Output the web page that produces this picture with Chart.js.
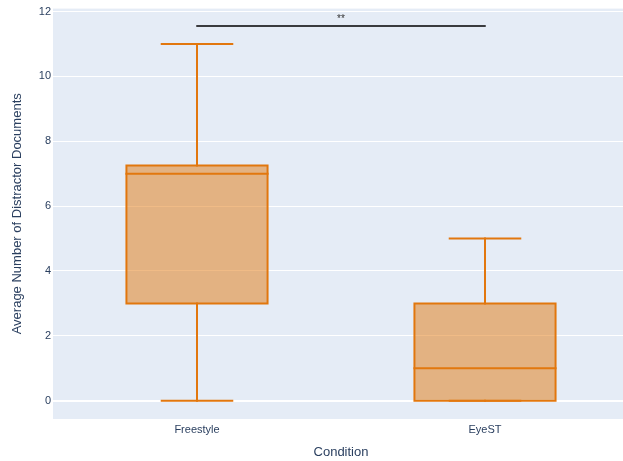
<!DOCTYPE html>
<html>
<head>
<meta charset="utf-8">
<script src="https://cdn.jsdelivr.net/npm/chart.js@4/dist/chart.umd.min.js"></script>
<style>
  html, body { margin: 0; padding: 0; background: #fff; overflow: hidden; }
  #wrap { width: 640px; height: 461px; }
</style>
</head>
<body>
<div id="wrap"><canvas id="c" width="640" height="461"></canvas></div>
<script>
// Box-plot summary per condition
const categories = ['Freestyle', 'EyeST'];
const mins    = [0, 0];
const q1s     = [3, 0];
const medians = [7, 1];
const q3s     = [7.25, 3];
const maxs    = [11, 5];

// Significance bracket between the two conditions
const sigPair  = [0, 1];
const sigLevel = 11.55;
const sigLabel = '**';

const yTicks = [0, 2, 4, 6, 8, 10, 12];

const LINE = 'rgb(226,119,14)';
const FILL = 'rgba(226,119,14,0.5)';
const TEXT = '#2a3f5f';
const BOX_HALF = 0.245;   // half box width in category units
const CAP_HALF = 0.1225;  // half whisker-cap width

// segment builders: points separated by null gaps
function segs(list) {
  const out = [];
  list.forEach((s, i) => {
    if (i > 0) out.push({ x: s[0][0], y: null });
    s.forEach(p => out.push({ x: p[0], y: p[1] }));
  });
  return out;
}
const whiskerSegs = [], capSegs = [], medianSegs = [], boxOutlines = [];
categories.forEach((_, i) => {
  whiskerSegs.push([[i, q3s[i]], [i, maxs[i]]]);
  whiskerSegs.push([[i, mins[i]], [i, q1s[i]]]);
  capSegs.push([[i - CAP_HALF, maxs[i]], [i + CAP_HALF, maxs[i]]]);
  capSegs.push([[i - CAP_HALF, mins[i]], [i + CAP_HALF, mins[i]]]);
  medianSegs.push([[i - BOX_HALF, medians[i]], [i + BOX_HALF, medians[i]]]);
  boxOutlines.push([
    [i - BOX_HALF, q1s[i]], [i + BOX_HALF, q1s[i]], [i + BOX_HALF, q3s[i]],
    [i - BOX_HALF, q3s[i]], [i - BOX_HALF, q1s[i]]
  ]);
});

const lineDs = (data, color, width) => ({
  type: 'line', xAxisID: 'xl', data, borderColor: color, borderWidth: width,
  pointRadius: 0, fill: false, spanGaps: false, tension: 0,
  borderCapStyle: 'square', borderJoinStyle: 'miter'
});

const plotBg = {
  id: 'plotBg',
  beforeDraw(chart) {
    const { ctx, chartArea: a } = chart;
    ctx.save();
    ctx.fillStyle = '#E5ECF6';
    ctx.fillRect(a.left, a.top, a.right - a.left, a.bottom - a.top);
    ctx.restore();
  }
};

const sigText = {
  id: 'sigText',
  afterDatasetsDraw(chart) {
    const { ctx } = chart;
    const xs = chart.scales.xl, ys = chart.scales.y;
    const x = (xs.getPixelForValue(sigPair[0]) + xs.getPixelForValue(sigPair[1])) / 2;
    const y = ys.getPixelForValue(sigLevel);
    ctx.save();
    ctx.fillStyle = '#333';
    ctx.font = '10px "Liberation Sans", Arial, sans-serif';
    ctx.textAlign = 'center';
    ctx.textBaseline = 'bottom';
    ctx.fillText(sigLabel, x, y - 2);
    ctx.restore();
  }
};

new Chart(document.getElementById('c'), {
  data: {
    labels: categories,
    datasets: [
      lineDs(segs(whiskerSegs), LINE, 2),
      {
        type: 'bar', xAxisID: 'x', grouped: false,
        data: categories.map((_, i) => [q1s[i], q3s[i]]),
        backgroundColor: FILL, borderWidth: 0,
        barPercentage: BOX_HALF * 2, categoryPercentage: 1
      },
      lineDs(segs(boxOutlines), LINE, 2),
      lineDs(segs(medianSegs), LINE, 2),
      lineDs(segs(capSegs), LINE, 2),
      lineDs(segs([[[sigPair[0], sigLevel], [sigPair[1], sigLevel]]]), '#000', 1.5)
    ]
  },
  options: {
    responsive: false,
    animation: false,
    layout: { padding: { top: 8, right: 11, left: 0, bottom: 0 } },
    plugins: { legend: { display: false }, tooltip: { enabled: false } },
    scales: {
      x: {
        type: 'category', offset: true,
        grid: { display: false, drawTicks: false },
        border: { display: false },
        ticks: { color: TEXT, font: { size: 11, family: '"Liberation Sans", Arial, sans-serif' }, padding: 4 },
        title: { display: true, text: 'Condition', color: TEXT,
                 font: { size: 13, family: '"Liberation Sans", Arial, sans-serif' },
                 padding: { top: 0, bottom: 1 } },
        afterFit(s) { s.height = 42; }
      },
      xl: {
        type: 'linear', display: false, min: -0.5, max: 1.5
      },
      y: {
        type: 'linear', min: -0.565, max: 12.09,
        afterBuildTicks(s) { s.ticks = yTicks.map(v => ({ value: v })); },
        grid: { color: '#fff', lineWidth: c => (c.tick && c.tick.value === 0 ? 2 : 1), drawTicks: false },
        border: { display: false },
        ticks: { color: TEXT, font: { size: 11, family: '"Liberation Sans", Arial, sans-serif' }, padding: 2 },
        title: { display: true, text: 'Average Number of Distractor Documents', color: TEXT,
                 font: { size: 13, family: '"Liberation Sans", Arial, sans-serif' },
                 padding: { top: 10, bottom: 0 } },
        afterFit(s) { s.width = 53; }
      }
    }
  },
  plugins: [plotBg, sigText]
});
</script>
</body>
</html>
